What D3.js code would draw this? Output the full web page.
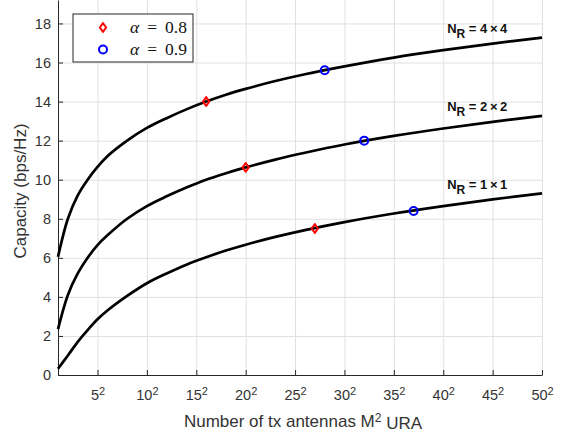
<!DOCTYPE html>
<meta charset="utf-8">
<style>
body { margin: 0; background: #fff; }
svg { font-family: "Liberation Sans", Arial, sans-serif; }
.grid line { stroke: #e0e0e0; stroke-width: 1; }
.grid path { display: none; }
.axis path, .axis line { stroke: #262626; stroke-width: 1; }
.axis text { fill: #333; font-size: 14.5px; font-family: "Liberation Sans", Arial, sans-serif; }
.curve { fill: none; stroke: #000; stroke-width: 2.7; }
.lab { font-size: 13px; font-weight: bold; fill: #111; }
</style>
<svg width="568" height="436"></svg>
<script src="https://d3js.org/d3.v7.min.js"></script>
<script>

// M (array side), capacity in bps/Hz
var M      = [1, 2, 3, 4, 5, 6, 8, 10, 12, 14, 16, 18, 20, 23, 26, 30, 35, 40, 45, 50];
var cap44  = [6.05, 8.0, 9.2, 10.0, 10.65, 11.2, 12.0, 12.65, 13.15, 13.6, 14.0, 14.35, 14.65, 15.05, 15.4, 15.8, 16.25, 16.63, 16.97, 17.27];
var cap22  = [2.35, 4.1, 5.2, 6.0, 6.65, 7.15, 8.0, 8.65, 9.15, 9.6, 10.0, 10.33, 10.63, 11.03, 11.38, 11.8, 12.24, 12.62, 12.96, 13.27];
var cap11  = [0.32, 1.0, 1.7, 2.3, 2.85, 3.3, 4.05, 4.7, 5.2, 5.65, 6.03, 6.37, 6.67, 7.07, 7.42, 7.83, 8.27, 8.65, 8.99, 9.3];
var curveNames = ["4\u2009\u00d7\u20094", "2\u2009\u00d7\u20092", "1\u2009\u00d7\u20091"];
var labelM = 40.4, labelC = [17.5, 13.5, 9.5];

// alpha = 0.8 (red) and alpha = 0.9 (blue) points
var redM  = [16, 20, 27],  redC  = [14.0, 10.63, 7.5];
var blueM = [28, 32, 37],  blueC = [15.6, 12.0, 8.4];

var xTicks = [5, 10, 15, 20, 25, 30, 35, 40, 45, 50];
var yTicks = [0, 2, 4, 6, 8, 10, 12, 14, 16, 18];

var svg = d3.select("svg"),
    margin = {top: 0, right: 26, bottom: 61, left: 58},
    width = svg.attr("width") - margin.left - margin.right,
    height = svg.attr("height") - margin.top - margin.bottom;

var x = d3.scaleLinear().domain([1, 50]).range([0, width]),
    y = d3.scaleLinear().domain([0, 19.2]).range([height, 0]);

var g = svg.append("g")
    .attr("transform", "translate(" + margin.left + "," + margin.top + ")");

// grid
g.append("g").attr("class", "grid")
    .attr("transform", "translate(0," + height + ")")
    .call(d3.axisBottom(x).tickValues(xTicks).tickSize(-height).tickFormat(""));
g.append("g").attr("class", "grid")
    .call(d3.axisLeft(y).tickValues(yTicks).tickSize(-width).tickFormat(""));

// axes, ticks pointing inward
var xa = g.append("g").attr("class", "axis")
    .attr("transform", "translate(0," + height + ")")
    .call(d3.axisBottom(x).tickValues(xTicks).tickSizeInner(-5).tickSizeOuter(0).tickPadding(15));
xa.selectAll(".tick text").each(function(d) {
  var t = d3.select(this).text(null);
  t.append("tspan").text(d);
  t.append("tspan").attr("dy", "-0.45em").attr("font-size", "11px").text("2");
});

g.append("g").attr("class", "axis")
    .call(d3.axisLeft(y).tickValues(yTicks).tickSizeInner(-5).tickSizeOuter(0).tickPadding(7));

// curves
var series = [cap44, cap22, cap11];
var line = d3.line()
    .x(function(d) { return x(d[0]); })
    .y(function(d) { return y(d[1]); })
    .curve(d3.curveCatmullRom);

g.selectAll(".curve")
    .data(series)
    .enter().append("path")
    .attr("class", "curve")
    .attr("d", function(s) { return line(M.map(function(m, i) { return [m, s[i]]; })); });

// curve labels
curveNames.forEach(function(n, i) {
  var t = g.append("text").attr("class", "lab")
      .attr("x", x(labelM)).attr("y", y(labelC[i]));
  t.append("tspan").text("N");
  t.append("tspan").attr("dy", 5).attr("font-size", "12px").text("R");
  t.append("tspan").attr("dy", -5).text(" = " + n);
});

// markers
var diamond = {
  draw: function(ctx, size) {
    var h = Math.sqrt(size) * 0.62, w = h * 0.72;
    ctx.moveTo(0, -h); ctx.lineTo(w, 0); ctx.lineTo(0, h); ctx.lineTo(-w, 0); ctx.closePath();
  }
};

g.selectAll(".red")
    .data(redM)
    .enter().append("path")
    .attr("class", "red")
    .attr("transform", function(d, i) { return "translate(" + x(d) + "," + y(redC[i]) + ")"; })
    .attr("d", d3.symbol().type(diamond).size(50))
    .attr("fill", "none").attr("stroke", "#ff0000").attr("stroke-width", 2).attr("stroke-linejoin", "round");

g.selectAll(".blue")
    .data(blueM)
    .enter().append("circle")
    .attr("class", "blue")
    .attr("cx", function(d) { return x(d); })
    .attr("cy", function(d, i) { return y(blueC[i]); })
    .attr("r", 4)
    .attr("fill", "none").attr("stroke", "#0000ff").attr("stroke-width", 2);

// axis labels
svg.append("text")
    .attr("x", margin.left + width / 2 + 3).attr("y", 427)
    .attr("text-anchor", "middle").attr("font-size", "17px").attr("fill", "#333")
    .call(function(t) {
      t.append("tspan").text("Number of tx antennas M");
      t.append("tspan").attr("dy", "-0.45em").attr("font-size", "12px").text("2");
      t.append("tspan").attr("dy", "0.45em").text(" URA");
    });

svg.append("text")
    .attr("transform", "translate(26,191) rotate(-90)")
    .attr("text-anchor", "middle").attr("font-size", "17px").attr("fill", "#333")
    .text("Capacity (bps/Hz)");

// legend
var lg = svg.append("g").attr("transform", "translate(73,14)");
lg.append("rect").attr("width", 120).attr("height", 48)
    .attr("fill", "#fff").attr("stroke", "#262626").attr("stroke-width", 1);
lg.append("path").attr("transform", "translate(30,13.5)")
    .attr("d", d3.symbol().type(diamond).size(50))
    .attr("fill", "none").attr("stroke", "#ff0000").attr("stroke-width", 2).attr("stroke-linejoin", "round");
lg.append("circle").attr("cx", 30).attr("cy", 35.5).attr("r", 4)
    .attr("fill", "none").attr("stroke", "#0000ff").attr("stroke-width", 2);
["0.8", "0.9"].forEach(function(v, i) {
  var t = lg.append("text").attr("x", 57).attr("y", 18.5 + i * 22)
      .attr("font-family", "'Liberation Serif', 'DejaVu Serif', serif")
      .attr("font-size", "17.5px").attr("fill", "#111");
  t.append("tspan").attr("font-style", "italic").text("\u03b1");
  t.append("tspan").attr("dx", 8).text("=");
  t.append("tspan").attr("dx", 8).text(v);
});

</script>
